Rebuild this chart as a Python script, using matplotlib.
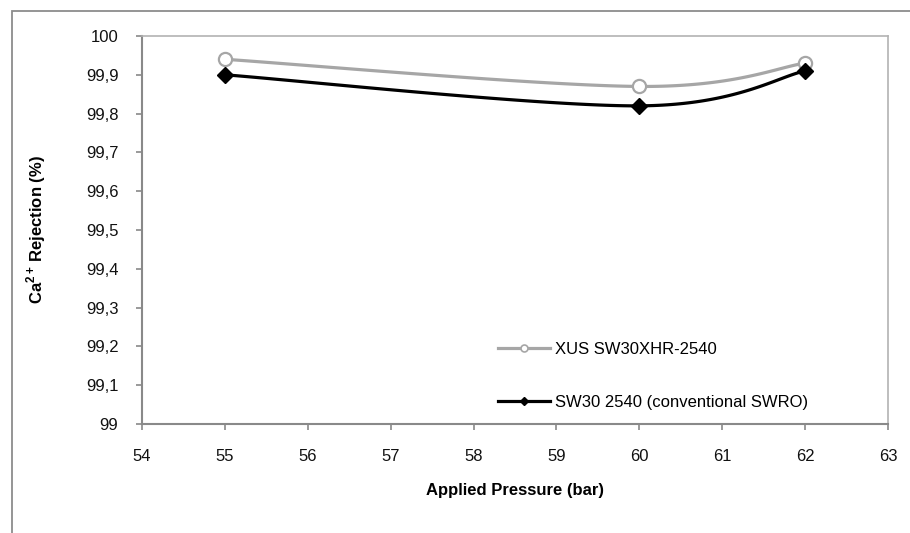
import numpy as np
import matplotlib
matplotlib.use("Agg")
import matplotlib.pyplot as plt
from matplotlib.ticker import FuncFormatter, MultipleLocator
from matplotlib.lines import Line2D
from matplotlib.patches import Rectangle

plt.rcParams["font.family"] = ["Liberation Sans", "DejaVu Sans"]
plt.rcParams["mathtext.fontset"] = "custom"
plt.rcParams["mathtext.rm"] = "Liberation Sans"
plt.rcParams["mathtext.bf"] = "Liberation Sans:bold"

# Data
pressure = [55, 60, 62]
xus_rejection = [99.94, 99.87, 99.93]
sw30_rejection = [99.90, 99.82, 99.91]
series_labels = ["XUS SW30XHR-2540", "SW30 2540 (conventional SWRO)"]

W, H, DPI = 910, 533, 100
fig = plt.figure(figsize=(W / DPI, H / DPI), dpi=DPI)

# outer chart frame
fig.patches.append(Rectangle((11.5 / W, -0.2), 1.2, 1 - 10.5 / H + 0.2,
                             transform=fig.transFigure, fill=False,
                             edgecolor="#8c8c8c", linewidth=1.3))

left, right, top, bottom = 142, 888, 36, 424
ax = fig.add_axes([left / W, 1 - bottom / H, (right - left) / W, (bottom - top) / H])

XMIN, XMAX, YMIN, YMAX = 54, 63, 99.0, 100.0


def smooth(xs, ys, n=60):
    """Bezier smoothing (Catmull-Rom style) computed in pixel space."""
    sx = (right - left) / (XMAX - XMIN)
    sy = (bottom - top) / (YMAX - YMIN)
    P = np.column_stack([np.asarray(xs, float) * sx, np.asarray(ys, float) * sy])
    out = []
    for i in range(len(P) - 1):
        p0 = P[i - 1] if i > 0 else P[i]
        p1, p2 = P[i], P[i + 1]
        p3 = P[i + 2] if i + 2 < len(P) else P[i + 1]
        c1 = p1 + (p2 - p0) / 6.0
        c2 = p2 - (p3 - p1) / 6.0
        t = np.linspace(0, 1, n)[:, None]
        seg = ((1 - t) ** 3) * p1 + 3 * ((1 - t) ** 2) * t * c1 + 3 * (1 - t) * t ** 2 * c2 + t ** 3 * p2
        out.append(seg if i == 0 else seg[1:])
    out = np.vstack(out)
    return out[:, 0] / sx, out[:, 1] / sy


gray = "#a6a6a6"
bx, by = smooth(pressure, xus_rejection)
ax.plot(bx, by, color=gray, lw=2.3, solid_capstyle="round", zorder=2)
ax.plot(pressure, xus_rejection, ls="none", marker="o", ms=9.5, mfc="white",
        mec=gray, mew=1.6, zorder=3)

kx, ky = smooth(pressure, sw30_rejection)
ax.plot(kx, ky, color="black", lw=2.3, solid_capstyle="round", zorder=4)
ax.plot(pressure, sw30_rejection, ls="none", marker="D", ms=8, mfc="black",
        mec="black", zorder=5)

ax.set_xlim(XMIN, XMAX)
ax.set_ylim(YMIN, YMAX)
ax.xaxis.set_major_locator(MultipleLocator(1))
ax.yaxis.set_major_locator(MultipleLocator(0.1))


def comma_fmt(v, pos):
    v = round(v, 1)
    return f"{v:g}".replace(".", ",")


ax.yaxis.set_major_formatter(FuncFormatter(comma_fmt))
ax.xaxis.set_major_formatter(FuncFormatter(lambda v, p: f"{int(round(v))}"))

for s in ["left", "bottom"]:
    ax.spines[s].set_color("#898989")
    ax.spines[s].set_linewidth(1.5)
for s in ["top", "right"]:
    ax.spines[s].set_color("#b3b3b3")
    ax.spines[s].set_linewidth(1.2)

ax.tick_params(axis="both", direction="out", length=4, width=1.2, color="#898989",
               labelsize=12, labelcolor="#111111")
ax.tick_params(axis="x", pad=14)
ax.tick_params(axis="y", pad=13)

ax.set_xlabel("Applied Pressure (bar)", fontsize=12, fontweight="bold", labelpad=14)
ax.set_ylabel(r"Ca$^{\mathbf{2+}}\,$Rejection (%)", fontsize=12, fontweight="bold")
ax.yaxis.set_label_coords((48 - left) / (right - left), 0.5)

handles = [
    Line2D([], [], color=gray, lw=2.3, marker="o", ms=5, mfc="white", mec=gray, mew=1.2),
    Line2D([], [], color="black", lw=2.3, marker="D", ms=4.5, mfc="black", mec="black"),
]
leg = fig.legend(handles, series_labels, loc="upper left",
                 bbox_to_anchor=(498 / W, 1 - 342 / H), frameon=False,
                 fontsize=12, handlelength=3.1, handletextpad=0.3,
                 labelspacing=2.25, borderpad=0, borderaxespad=0)

fig.savefig("out.png", dpi=DPI)
